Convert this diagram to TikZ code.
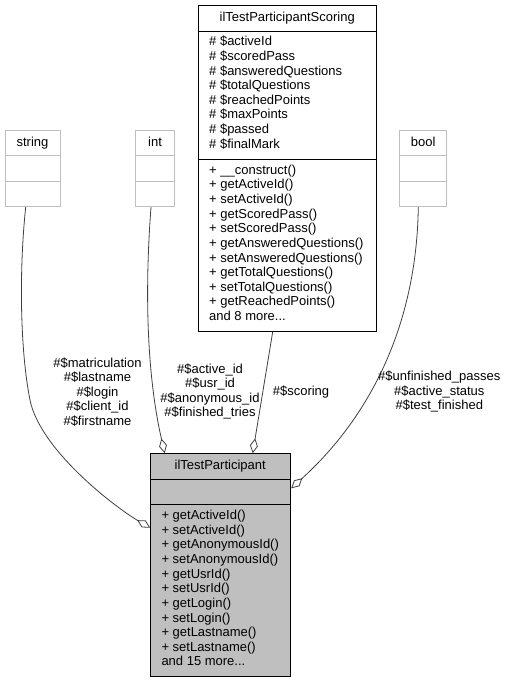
\documentclass[tikz,border=0pt]{standalone}
\usepackage{fontspec}
\setmainfont{Liberation Sans}
\usetikzlibrary{arrows.meta}
\definecolor{boxgray}{HTML}{BFBFBF}
\definecolor{fillgray}{HTML}{BFBFBF}
\definecolor{edgegray}{HTML}{404040}
\newcommand{\mydots}{...}
\begin{document}
\begin{tikzpicture}[x=1pt,y=-1pt,
  txt/.style={inner sep=0pt, text height=9.5pt, text depth=2.8pt, font=\fontsize{13}{14.5}\selectfont},
  rowtext/.style={txt, anchor=west},
  lbl/.style={inner sep=0pt, align=center, font=\fontsize{13}{14.5}\selectfont},
  graybox/.style={draw=boxgray, line width=1pt, inner sep=0pt, fill=white},
  blackbox/.style={draw=black, line width=1pt, inner sep=0pt},
  sepgray/.style={draw=boxgray, line width=1pt},
  sepblack/.style={draw=black, line width=1pt},
  conn/.style={draw=edgegray, line width=0.8pt, -{Diamond[open, length=15pt, width=8pt, line width=0.8pt]}},
]
\useasboundingbox (0,0) rectangle (507,683);

% ---- simple type boxes
\node[graybox, minimum width=55pt, minimum height=76pt] (string) at (32.5,168.7) {};
\node[graybox, minimum width=38.6pt, minimum height=76pt] (int) at (155,168.7) {};
\node[graybox, minimum width=47pt, minimum height=76pt] (bool) at (423.2,168.7) {};
\foreach \b in {string,int,bool}{
  \draw[sepgray] (\b.west |- 0,155.7) -- (\b.east |- 0,155.7);
  \draw[sepgray] (\b.west |- 0,181.3) -- (\b.east |- 0,181.3);
}
\node[txt] (stringt) at (string |- 0,142.7) {string};
\node[txt] (intt) at (int |- 0,142.7) {int};
\node[txt] (boolt) at (bool |- 0,142.7) {bool};

% ---- ilTestParticipantScoring
\node[blackbox, fill=white, minimum width=177.3pt, minimum height=325.3pt] (scoring) at (287.35,168.35) {};
\draw[sepblack] (scoring.west |- 0,31.7) -- (scoring.east |- 0,31.7);
\draw[sepblack] (scoring.west |- 0,159.3) -- (scoring.east |- 0,159.3);
\node[txt] (scoringt) at (287.2,17.8) {ilTestParticipantScoring};
\foreach \t [count=\i from 0] in {{\# \$activeId},{\# \$scoredPass},{\# \$answeredQuestions},{\# \$totalQuestions},{\# \$reachedPoints},{\# \$maxPoints},{\# \$passed},{\# \$finalMark}}{
  \node[rowtext] (sa\i) at (209,{42.5+14.6*\i}) {\t};
}
\foreach \t [count=\i from 0] in {{+ \_\_construct()},{+ getActiveId()},{+ setActiveId()},{+ getScoredPass()},{+ setScoredPass()},{+ getAnsweredQuestions()},{+ setAnsweredQuestions()},{+ getTotalQuestions()},{+ setTotalQuestions()},{+ getReachedPoints()},{and 8 more\mydots}}{
  \node[rowtext] (sm\i) at (209,{170.7+14.66*\i}) {\t};
}

% ---- ilTestParticipant
\node[blackbox, fill=fillgray, minimum width=140pt, minimum height=223pt] (part) at (220.7,565.2) {};
\draw[sepblack] (part.west |- 0,479) -- (part.east |- 0,479);
\draw[sepblack] (part.west |- 0,504.3) -- (part.east |- 0,504.3);
\node[txt] (partt) at (220.2,465.8) {ilTestParticipant};
\foreach \t [count=\i from 0] in {{+ getActiveId()},{+ setActiveId()},{+ getAnonymousId()},{+ setAnonymousId()},{+ getUsrId()},{+ setUsrId()},{+ getLogin()},{+ setLogin()},{+ getLastname()},{+ setLastname()},{and 15 more\mydots}}{
  \node[rowtext] (pm\i) at (161.3,{516.3+14.63*\i}) {\t};
}

% ---- connectors
\draw[conn] ([xshift=-6.8pt]string.south) .. controls (19,270) and (20,350) .. (30,400)
   .. controls (40,450) and (115.7,507.7) .. ([yshift=37.5pt]part.west);
\draw[conn] ([xshift=-4pt]int.south) .. controls (144,300) and (148,380) .. ([xshift=-56pt]part.north);
\draw[conn] ([xshift=-14.6pt]scoring.south) -- ([xshift=32pt]part.north);
\draw[conn] ([xshift=-4.9pt]bool.south) .. controls (416.7,319.2) and (374.3,412.8) .. ([yshift=76.9pt]part.east);

% ---- connector labels
\node[lbl] (l1) at (97.5,392) {\#\$matriculation\\\#\$lastname\\\#\$login\\\#\$client\_id\\\#\$firstname};
\node[lbl] (l2) at (210,391.5) {\#\$active\_id\\\#\$usr\_id\\\#\$anonymous\_id\\\#\$finished\_tries};
\node[txt] (l3) at (301,392) {\#\$scoring};
\node[lbl] (l4) at (439.3,391.5) {\#\$unfinished\_passes\\\#\$active\_status\\\#\$test\_finished};
\end{tikzpicture}
\end{document}
